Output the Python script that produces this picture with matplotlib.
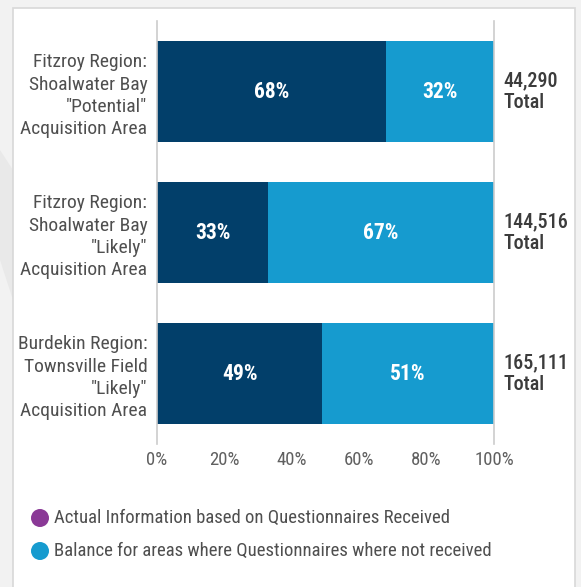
import matplotlib
matplotlib.use('Agg')
import matplotlib.pyplot as plt
from matplotlib import font_manager
from matplotlib.patches import Rectangle, Polygon, Circle

# prefer a narrow face, as in the original
names = set(f.name for f in font_manager.fontManager.ttflist)
narrow = [n for n in ['Liberation Sans Narrow', 'DejaVu Sans Condensed',
                      'Roboto Condensed', 'Open Sans Condensed'] if n in names]
plt.rcParams['font.family'] = narrow[:1] + ['DejaVu Sans']

# data
regions = ['Fitzroy Region:\nShoalwater Bay\n"Potential"\nAcquisition Area',
           'Fitzroy Region:\nShoalwater Bay\n"Likely"\nAcquisition Area',
           'Burdekin Region:\nTownsville Field\n"Likely"\nAcquisition Area']
actual = [68, 33, 49]
balance = [32, 67, 51]
totals = ['44,290', '144,516', '165,111']
ticks = [0, 20, 40, 60, 80, 100]
legend_labels = ['Actual Information based on Questionnaires Received',
                 'Balance for areas where Questionnaires where not received']

dark = '#023f6a'
light = '#169bcf'
purple = '#8a3996'
grey_text = '#4f4f4f'

fig = plt.figure(figsize=(5.81, 5.87), dpi=100)
fig.patch.set_facecolor('#f2f2f2')

# background axes for the card, in pixel units
bg = fig.add_axes([0, 0, 1, 1], zorder=0)
bg.set_xlim(0, 581)
bg.set_ylim(587, 0)
bg.axis('off')
bg.add_patch(Polygon([(0, 150), (13, 170), (13, 300), (0, 260)], closed=True,
                     facecolor='#e9e9e9', edgecolor='none'))
bg.add_patch(Rectangle((13, 8), 575 - 13, 600, facecolor='white',
                       edgecolor='#d8d8d8', linewidth=1.2))

ax = fig.add_axes([157 / 581, 1 - 444 / 587, (494 - 157) / 581, (444 - 21) / 587], zorder=1)
ax.set_facecolor('none')

y = list(range(len(regions)))
ax.barh(y, actual, height=0.72, color=dark)
ax.barh(y, balance, left=actual, height=0.72, color=light)

for i in y:
    ax.text(actual[i] / 2, i, str(actual[i]) + '%', color='white',
            ha='center', va='center', fontsize=15.5, fontweight='bold')
    ax.text(actual[i] + balance[i] / 2, i, str(balance[i]) + '%', color='white',
            ha='center', va='center', fontsize=15.5, fontweight='bold')
    ax.text(102.7, i, totals[i] + '\nTotal', color='#3c3c3c', ha='left',
            va='center', fontsize=14.5, fontweight='medium', linespacing=1.15)

ax.set_xlim(0, 100)
ax.set_ylim(2.5, -0.5)
ax.set_yticks(y)
ax.set_yticklabels(regions, fontsize=14, color=grey_text, linespacing=1.3)
ax.set_xticks(ticks)
ax.set_xticklabels([str(t) + '%' for t in ticks], fontsize=13.5, color='#606060')
ax.tick_params(length=0)
ax.tick_params(axis='y', pad=7)
ax.tick_params(axis='x', pad=5)

for s in ['top', 'bottom']:
    ax.spines[s].set_visible(False)
for s in ['left', 'right']:
    ax.spines[s].set_color('#cccccc')
    ax.spines[s].set_linewidth(1.2)

# legend
for k, (lab, col) in enumerate(zip(legend_labels, [purple, light])):
    yy = 518 + 33 * k
    bg.add_patch(Circle((40, yy), 9, facecolor=col, edgecolor='none'))
    bg.text(54, yy, lab, color=grey_text, fontsize=13.5, ha='left', va='center')

plt.savefig('out.png', dpi=100, facecolor=fig.get_facecolor())
